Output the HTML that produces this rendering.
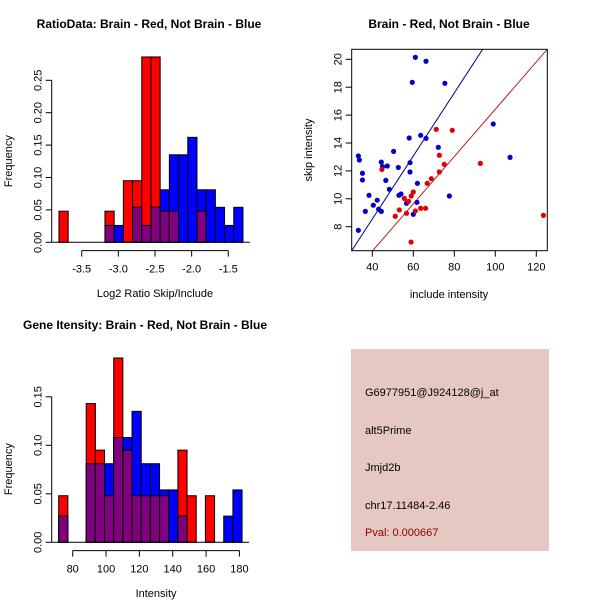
<!DOCTYPE html>
<html><head><meta charset="utf-8"><style>
body{margin:0;background:#fff}
svg{display:block;font-family:"Liberation Sans",sans-serif}
</style></head><body>
<svg id="chart" width="600" height="600" viewBox="0 0 600 600" xmlns="http://www.w3.org/2000/svg">
<rect width="600" height="600" fill="#fff"/>
<text x="149" y="28" font-size="12" font-weight="bold" text-anchor="middle">RatioData: Brain - Red, Not Brain - Blue</text>
<text x="449" y="28" font-size="12" font-weight="bold" text-anchor="middle">Brain - Red, Not Brain - Blue</text>
<text x="145" y="329" font-size="12" font-weight="bold" text-anchor="middle">Gene Itensity: Brain - Red, Not Brain - Blue</text>
<g id="p1"></g>
<g id="p2"></g>
<g id="p3"></g>
<g>
<rect x="351" y="349" width="198" height="202" fill="#E6C8C2"/>
<text x="365" y="396" font-size="11">G6977951@J924128@j_at</text>
<text x="365" y="434" font-size="11">alt5Prime</text>
<text x="365" y="471" font-size="11">Jmjd2b</text>
<text x="365" y="509" font-size="11">chr17.11484-2.46</text>
<text x="365" y="536" font-size="11" fill="#8B0000">Pval: 0.000667</text>
</g>
</svg>
<script>
// Histogram 1 data
const h1Start = -3.81, h1Width = 0.1255;
const h1Red  = [0.048,0,0,0,0,0.048,0,0.095,0.095,0.286,0.286,0.048,0.048,0,0,0.048,0,0,0,0];
const h1Blue = [0,0,0,0,0,0.026,0.026,0,0.054,0.026,0.054,0.081,0.135,0.135,0.162,0.081,0.081,0.054,0.026,0.054];
const h1XTicks = [-3.5,-3.0,-2.5,-2.0,-1.5];
const h1XLabels = ["-3.5","-3.0","-2.5","-2.0","-1.5"];
const h1YTicks = [0,0.05,0.10,0.15,0.20,0.25];
const h1YLabels = ["0.00","0.05","0.10","0.15","0.20","0.25"];
// Histogram 3 data
const h3Start = 71.6, h3Width = 5.5;
const h3Red  = [0.048,0,0,0.143,0.095,0.048,0.19,0.095,0.048,0.048,0.048,0.048,0,0.095,0.048,0,0.048,0,0,0];
const h3Blue = [0.027,0,0,0.081,0.081,0.081,0.108,0.108,0.135,0.081,0.081,0.054,0.054,0.027,0,0,0,0,0.027,0.054];
const h3XTicks = [80,100,120,140,160,180];
const h3XLabels = ["80","100","120","140","160","180"];
const h3YTicks = [0,0.05,0.10,0.15];
const h3YLabels = ["0.00","0.05","0.10","0.15"];
// Scatter data
const blueX = [61.0,66.2,59.5,75.4,58.0,63.6,66.2,72.2,33.2,33.7,50.4,44.4,58.4,45.0,47.3,52.7,35.2,35.2,58.4,46.6,62.0,48.3,38.4,53.0,54.0,42.4,40.5,43.1,44.4,36.6,56.7,61.8,60.0,77.6,99.0,107.2,33.2];
const blueY = [20.14,19.86,18.35,18.28,14.36,14.55,14.33,13.69,13.07,12.78,13.40,12.63,12.59,12.30,12.35,12.25,11.83,11.35,11.92,11.32,11.11,10.68,10.25,10.25,10.35,9.90,9.54,9.25,9.10,9.10,9.68,9.75,8.89,10.20,15.36,12.97,7.74];
const redX = [71.2,79.0,72.7,92.7,75.1,44.7,72.7,68.8,66.8,60.0,59.0,55.6,57.7,53.2,56.7,61.0,63.6,66.0,51.2,58.9,123.5];
const redY = [14.98,14.91,13.12,12.54,12.47,12.11,11.92,11.44,11.11,10.49,10.20,10.03,9.82,9.20,8.96,9.13,9.32,9.32,8.75,6.90,8.81];
const blueLine = [0.226,-0.49];
const redLine = [0.1695,-0.53];
const sXTicks = [40,60,80,100,120];
const sYTicks = [8,10,12,14,16,18,20];

const NS="http://www.w3.org/2000/svg";
function mk(parent,tag,attrs){const e=document.createElementNS(NS,tag);for(const k in attrs)e.setAttribute(k,attrs[k]);parent.appendChild(e);return e;}

function hist(g,start,width,red,blue,xt,xlabels,yt,yl,xs,ys,yAxisTop,xlab,xlabY,ylabX){
  const base=ys(0);
  for(let i=0;i<red.length;i++){
    const x0=xs(start+i*width), x1=xs(start+(i+1)*width);
    const r=red[i], b=blue[i]||0;
    if(r>0){const e=mk(g,'rect',{x:x0,y:ys(r),width:x1-x0,height:base-ys(r),fill:'#FF0000',stroke:'#000','stroke-width':1});
      
      }
    if(b>0){const e=mk(g,'rect',{x:x0,y:ys(b),width:x1-x0,height:base-ys(b),fill:'#0000FF',stroke:'#000','stroke-width':1});
      
      }
    const m=Math.min(r,b);
    if(m>0){const e=mk(g,'rect',{x:x0,y:ys(m),width:x1-x0,height:base-ys(m),fill:'#800080',stroke:'#000','stroke-width':1});
      
      }
  }
  const bl=mk(g,'line',{x1:xs(start)-7,x2:xs(start+red.length*width)+7,y1:base,y2:base,stroke:'#000'});
  
  
  const ax=51.7;
  mk(g,'line',{x1:ax,x2:ax,y1:ys(yt[0]),y2:ys(yt[yt.length-1]),stroke:'#000'});
  yt.forEach((v,i)=>{mk(g,'line',{x1:ax-6,x2:ax,y1:ys(v),y2:ys(v),stroke:'#000'});
    const t=mk(g,'text',{x:0,y:0,'font-size':11,'text-anchor':'middle',transform:`translate(${ax-10},${ys(v)}) rotate(-90)`});
    t.textContent=yl[i];
    
    });
  const ay=base+8.3;
  mk(g,'line',{x1:xs(xt[0]),x2:xs(xt[xt.length-1]),y1:ay,y2:ay,stroke:'#000'});
  xt.forEach((v,i)=>{mk(g,'line',{x1:xs(v),x2:xs(v),y1:ay,y2:ay+6,stroke:'#000'});
    const t=mk(g,'text',{x:xs(v),y:ay+22,'font-size':11,'text-anchor':'middle'});
    t.textContent=xlabels[i];
    
    });
  const xl=mk(g,'text',{x:(xs(xt[0])+xs(xt[xt.length-1]))/2,y:xlabY,'font-size':11,'text-anchor':'middle'});
  xl.textContent=xlab;
  
  
  const yl2=mk(g,'text',{x:0,y:0,'font-size':11,'text-anchor':'middle',transform:`translate(${ylabX},${(ys(0)+yAxisTop)/2}) rotate(-90)`});
  yl2.textContent='Frequency';
  
  
}
{
  const xs=v=>81.7+(v+3.5)*73.3, ys=v=>242.3-v*648;
  hist(document.getElementById('p1'),h1Start,h1Width,h1Red,h1Blue,h1XTicks,h1XLabels,h1YTicks,h1YLabels,xs,ys,80,'Log2 Ratio Skip/Include',297,12);
}
{
  const xs=v=>72.7+(v-80)*1.667, ys=v=>542.3-v*970;
  hist(document.getElementById('p3'),h3Start,h3Width,h3Red,h3Blue,h3XTicks,h3XLabels,h3YTicks,h3YLabels,xs,ys,396,'Intensity',597,12);
}
{
  const g=document.getElementById('p2');
  const xs=v=>372.3+(v-40)*2.05, ys=v=>59.3+(20-v)*13.95;
  const L=351.7,R=547.3,T=49.3,B=250.7;
  const cp=mk(g,'clipPath',{id:'sc'}); mk(cp,'rect',{x:L,y:T,width:R-L,height:B-T});
  const xmin=40+(L-372.3)/2.05, xmax=40+(R-372.3)/2.05;
  [[blueLine,'#00008B','blue-fit-line'],[redLine,'#B22222','red-fit-line']].forEach(([c,col,n])=>{
    const l=mk(g,'line',{x1:xs(xmin),y1:ys(c[0]*xmin+c[1]),x2:xs(xmax),y2:ys(c[0]*xmax+c[1]),stroke:col,'clip-path':'url(#sc)'});
    
    
  });
  blueX.forEach((x,i)=>{const c=mk(g,'circle',{cx:xs(x),cy:ys(blueY[i]),r:2.6,fill:'#0000CC'});
    
    });
  redX.forEach((x,i)=>{const c=mk(g,'circle',{cx:xs(x),cy:ys(redY[i]),r:2.6,fill:'#E00000'});
    
    });
  const f=mk(g,'rect',{x:L,y:T,width:R-L,height:B-T,fill:'none',stroke:'#000'});
  
  
  sXTicks.forEach(v=>{mk(g,'line',{x1:xs(v),x2:xs(v),y1:B,y2:B+6,stroke:'#000'});
    const t=mk(g,'text',{x:xs(v),y:B+20,'font-size':11,'text-anchor':'middle'});t.textContent=v;
    
    });
  sYTicks.forEach(v=>{mk(g,'line',{x1:L-6,x2:L,y1:ys(v),y2:ys(v),stroke:'#000'});
    const t=mk(g,'text',{x:0,y:0,'font-size':11,'text-anchor':'middle',transform:`translate(${L-10},${ys(v)}) rotate(-90)`});t.textContent=v;
    
    });
  const xl=mk(g,'text',{x:449,y:298,'font-size':11,'text-anchor':'middle'});xl.textContent='include intensity';
  
  
  const yl=mk(g,'text',{x:0,y:0,'font-size':11,'text-anchor':'middle',transform:`translate(312,150) rotate(-90)`});yl.textContent='skip intensity';
  
  
}
</script>
</body></html>
